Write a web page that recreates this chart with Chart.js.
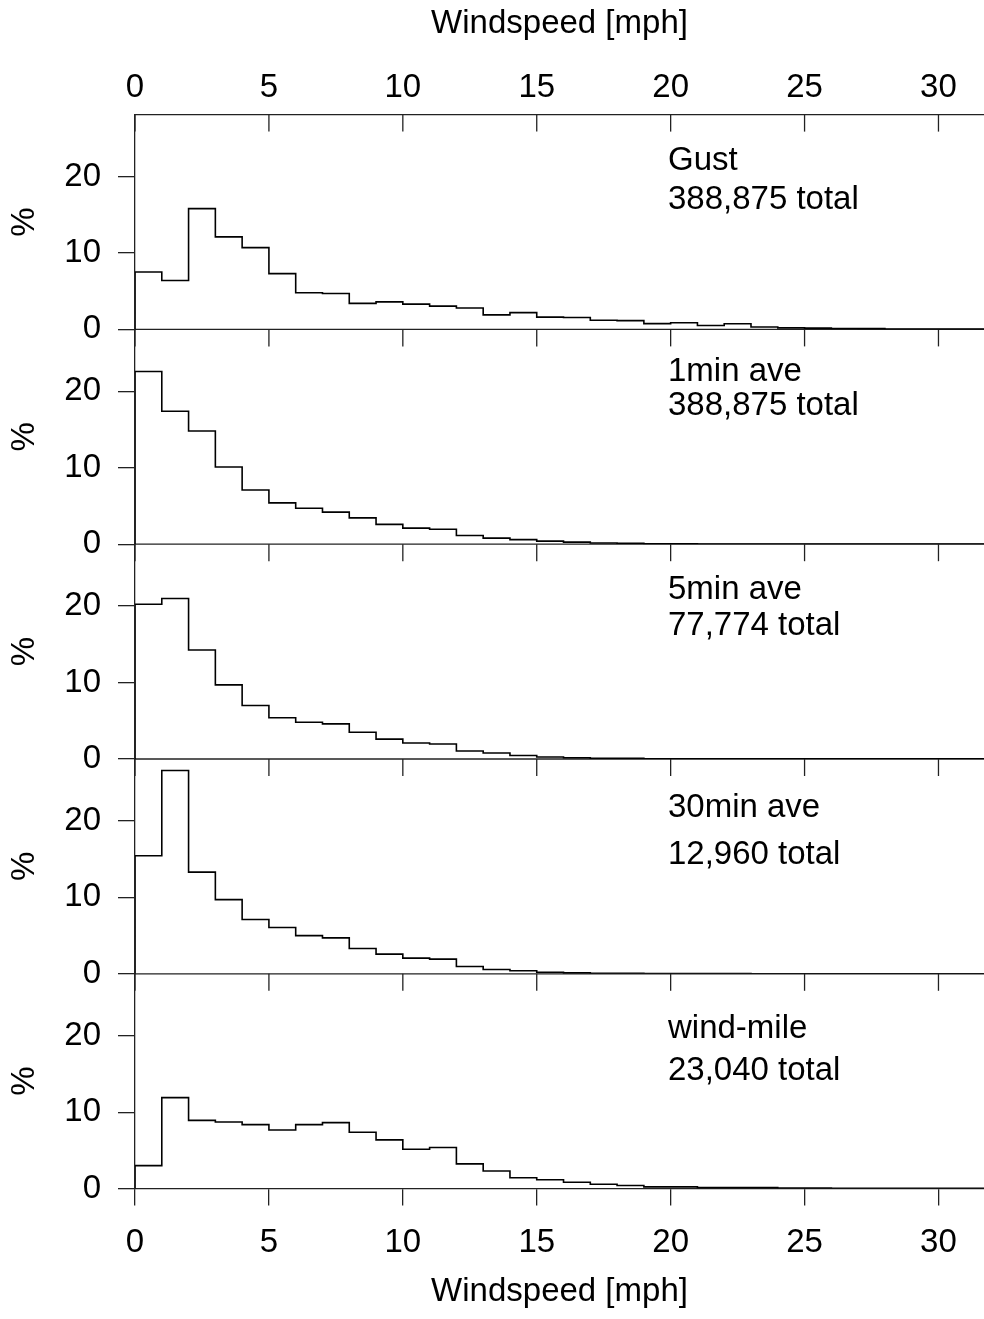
<!DOCTYPE html>
<html>
<head>
<meta charset="utf-8">
<script src="https://cdn.jsdelivr.net/npm/chart.js@4.4.1/dist/chart.umd.min.js"></script>
<style>
html,body{margin:0;padding:0;background:#fff;}
canvas{display:block;}
</style>
</head>
<body>
<canvas id="c" width="984" height="1319"></canvas>
<script>
// ---- data ----
const binEdges = [0,1,2,3,4,5,6,7,8,9,10,11,12,13,14,15,16,17,18,19,20,21,22,23,24,25,26,27,28,29,30,31,32];
const gust  = [7.5,6.4,15.8,12.1,10.7,7.3,4.8,4.7,3.4,3.6,3.3,3.05,2.8,1.9,2.2,1.6,1.55,1.2,1.15,0.75,0.87,0.52,0.74,0.31,0.2,0.17,0.12,0.1,0.06,0.05,0.03,0.03];
const min1  = [22.6,17.4,14.8,10.1,7.1,5.4,4.7,4.2,3.45,2.6,2.1,1.96,1.14,0.8,0.6,0.4,0.27,0.15,0.12,0.06,0.04,0.03,0.03,0.02,0.02,0.01,0.01,0.01,0.01,0.01,0.01,0.01];
const min5  = [20.25,21.0,14.25,9.7,7.0,5.4,4.8,4.6,3.5,2.6,2.1,1.96,1.04,0.78,0.45,0.26,0.17,0.1,0.1,0.04,0.03,0.02,0.02,0.01,0.01,0.01,0.01,0.01,0.01,0.01,0.01,0.01];
const min30 = [15.45,26.6,13.3,9.7,7.1,6.06,5.0,4.7,3.3,2.57,2.05,1.92,0.96,0.57,0.4,0.2,0.12,0.08,0.05,0.04,0.03,0.02,0.02,0.01,0.01,0.01,0.01,0.01,0.01,0.01,0.01,0.01];
const windMile = [3.0,11.9,8.93,8.72,8.37,7.67,8.37,8.63,7.37,6.37,5.15,5.37,3.23,2.31,1.42,1.16,0.83,0.57,0.4,0.22,0.22,0.13,0.13,0.13,0.08,0.06,0.05,0.05,0.04,0.04,0.03,0.03];
const panelNames  = ["Gust","1min ave","5min ave","30min ave","wind-mile"];
const panelTotals = ["388,875 total","388,875 total","77,774 total","12,960 total","23,040 total"];
const nameY  = [20.8,21.4,20.95,20.55,19.74];
const totalY = [15.8,16.9,16.26,14.36,14.17];
const labelX = 19.9;
const xTicks = [0,5,10,15,20,25,30];
const yTicks = [0,10,20];
const xTitle = "Windspeed [mph]";
const yTitle = "%";

const series = [gust, min1, min5, min30, windMile];
const FONT = "'Liberation Sans', Arial, Helvetica, sans-serif";
const FS = 33;
const AX = '#222';

function stepPoints(vals){
  const pts = [{x: binEdges[0], y: 0}];
  for (let i = 0; i < vals.length; i++) pts.push({x: binEdges[i], y: vals[i]});
  pts.push({x: binEdges[vals.length], y: vals[vals.length - 1]});
  return pts;
}

const datasets = series.map((vals, i) => ({
  label: panelNames[i],
  data: stepPoints(vals),
  yAxisID: 'y' + (i + 1),
  xAxisID: 'x',
  stepped: 'before',
  borderColor: '#000',
  borderWidth: 1.6,
  pointRadius: 0,
  fill: false,
  tension: 0
}));

const scales = {
  x: {
    type: 'linear', position: 'bottom', min: 0, max: 31.7,
    afterBuildTicks: s => { s.ticks = xTicks.map(v => ({value: v})); },
    ticks: {font: {family: FONT, size: FS}, color: '#000', padding: 18, maxRotation: 0},
    grid: {drawOnChartArea: false, drawTicks: true, tickLength: 17, color: AX, lineWidth: 1.3},
    border: {display: true, color: AX, width: 1.3},
    title: {display: true, text: xTitle, font: {family: FONT, size: FS}, color: '#000', padding: {top: -9, bottom: 0}}
  },
  x2: {
    type: 'linear', position: 'top', min: 0, max: 31.7,
    afterBuildTicks: s => { s.ticks = xTicks.map(v => ({value: v})); },
    ticks: {font: {family: FONT, size: FS}, color: '#000', padding: 7, maxRotation: 0},
    grid: {display: false, drawOnChartArea: false, drawTicks: false, tickLength: 0},
    border: {display: true, color: AX, width: 1.3},
    title: {display: true, text: xTitle, font: {family: FONT, size: FS}, color: '#000', padding: {top: 4.2, bottom: 17.2}}
  }
};
for (let i = 0; i < 5; i++) {
  scales['y' + (i + 1)] = {
    type: 'linear', position: 'left', stack: 'panels', stackWeight: 1, weight: 5 - i,
    min: 0, max: 28.1,
    afterBuildTicks: s => { s.ticks = yTicks.map(v => ({value: v})); },
    ticks: {font: {family: FONT, size: FS}, color: '#000', padding: 17},
    grid: {drawOnChartArea: false, drawTicks: true, tickLength: 17, color: AX, lineWidth: 1.3},
    border: {display: true, color: AX, width: 1.3},
    title: {display: true, text: yTitle, font: {family: FONT, size: FS}, color: '#000', padding: {top: -40, bottom: 2.5}}
  };
}

const framePlugin = {
  id: 'frame',
  beforeDatasetsDraw(chart) {
    const {ctx, chartArea} = chart;
    const xs = chart.scales.x;
    ctx.save();
    ctx.strokeStyle = AX;
    ctx.lineWidth = 1.3;
    for (let i = 0; i < 5; i++) {
      const ys = chart.scales['y' + (i + 1)];
      const y0 = ys.getPixelForValue(0);
      if (i < 4) {
        ctx.beginPath();
        ctx.moveTo(chartArea.left, y0);
        ctx.lineTo(chartArea.right, y0);
        ctx.stroke();
      }
      const top = ys.top;
      for (const v of xTicks) {
        const px = xs.getPixelForValue(v);
        ctx.beginPath();
        ctx.moveTo(px, top);
        ctx.lineTo(px, top + 17);
        ctx.stroke();
      }
    }
    ctx.restore();
  },
  afterDatasetsDraw(chart) {
    const {ctx} = chart;
    const xs = chart.scales.x;
    ctx.save();
    ctx.fillStyle = '#000';
    ctx.font = FS + 'px ' + FONT;
    ctx.textAlign = 'left';
    ctx.textBaseline = 'alphabetic';
    for (let i = 0; i < 5; i++) {
      const ys = chart.scales['y' + (i + 1)];
      const px = xs.getPixelForValue(labelX);
      ctx.fillText(panelNames[i], px, ys.getPixelForValue(nameY[i]));
      ctx.fillText(panelTotals[i], px, ys.getPixelForValue(totalY[i]));
    }
    ctx.restore();
  }
};

new Chart(document.getElementById('c'), {
  type: 'line',
  data: {datasets},
  options: {
    responsive: false,
    animation: false,
    devicePixelRatio: 1,
    layout: {padding: {left: 45.2, right: 0, top: 0, bottom: 7.2}},
    plugins: {legend: {display: false}, tooltip: {enabled: false}},
    scales
  },
  plugins: [framePlugin]
});
</script>
</body>
</html>
